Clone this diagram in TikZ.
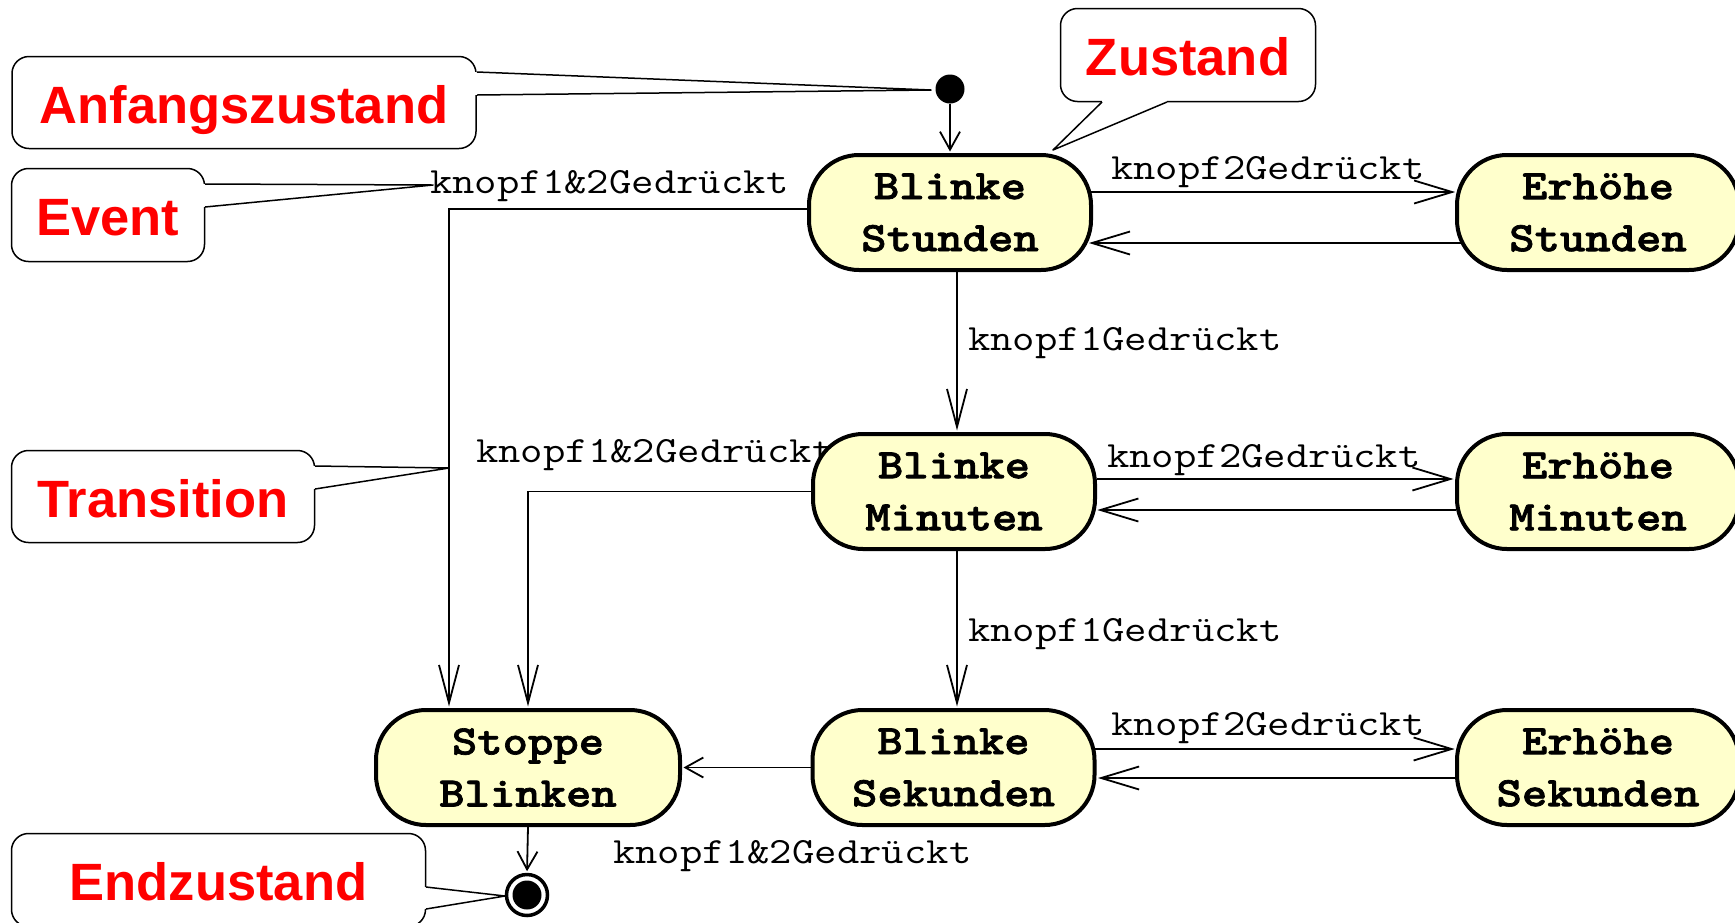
\documentclass[tikz,border=0pt]{standalone}
\usepackage{fontspec}
\setmainfont{Liberation Sans}
\newfontfamily\lblmono[FakeStretch=1.175]{Latin Modern Mono}
\newfontfamily\statemono[FakeStretch=1.15,FakeBold=1.6]{lmmonolt10-bold.otf}
\usetikzlibrary{arrows.meta}
\definecolor{statefill}{HTML}{FFFFCC}
\definecolor{callred}{HTML}{FF0000}
\begin{document}
\begin{tikzpicture}[x=1pt,y=-1pt,
 stateb/.style={draw, line width=4pt, fill=statefill, rounded corners=50pt, minimum width=282pt, minimum height=115pt, inner sep=0pt, align=center, font=\statemono\fontsize{42}{52}\selectfont},
 callbox/.style={draw, line width=1.5pt, fill=white, rounded corners=17pt, inner sep=0pt, text=callred, font=\bfseries\fontsize{52.5}{60}\selectfont, text height=41pt, text depth=0pt},
 calline/.style={line width=1.5pt, line join=round},
 lbl/.style={anchor=base west, inner sep=0pt, font=\lblmono\fontsize{37}{44}\selectfont},
 conn/.style={line width=1.8pt, shorten >=1.5pt, -{Straight Barb[length=18pt,width=20pt]}},
 connl/.style={line width=1.8pt, shorten >=1.5pt, -{Straight Barb[length=38pt,width=23pt]}},
 connv/.style={line width=1.8pt, shorten >=1.5pt, -{Straight Barb[length=38pt,width=20pt]}},
]
\useasboundingbox (0,0) rectangle (1735,922);

% callouts
\node[callbox, minimum width=464pt, minimum height=92pt] (anf) at (244,102.5) {Anfangszustand};
\coordinate (anfA) at (477,72); \coordinate (anfB) at (477,95); \coordinate (anfT) at (931,90);
\fill[white] (474.5,72) rectangle (479.5,95);
\draw[calline] (anfA) -- (anfT) -- (anfB);

\node[callbox, minimum width=193pt, minimum height=93pt] (evt) at (108,215) {Event};
\coordinate (evtA) at (205,184); \coordinate (evtB) at (205,207); \coordinate (evtT) at (433,185);
\fill[white] (202.5,184) rectangle (207.5,207);
\draw[calline] (evtA) -- (evtT) -- (evtB);

\node[callbox, minimum width=303pt, minimum height=92pt] (trn) at (163,496.5) {Transition};
\coordinate (trnA) at (315,466); \coordinate (trnB) at (315,489); \coordinate (trnT) at (449,468);
\fill[white] (312.5,466) rectangle (317.5,489);
\draw[calline] (trnA) -- (trnT) -- (trnB);

\node[callbox, minimum width=414pt, minimum height=93pt] (end) at (218.5,880) {Endzustand};
\coordinate (endA) at (426,887); \coordinate (endB) at (426,909); \coordinate (endT) at (505,896);
\fill[white] (423.5,887) rectangle (428.5,909);
\draw[calline] (endA) -- (endT) -- (endB);

\node[callbox, minimum width=255pt, minimum height=93pt] (zus) at (1188,55) {Zustand};
\coordinate (zusA) at (1102,102); \coordinate (zusB) at (1167,102); \coordinate (zusT) at (1053,150);
\fill[white] (1102,99.5) rectangle (1167,104.5);
\draw[calline] (zusA) -- (zusT) -- (zusB);

% labels
\node[lbl] (l1) at (430,193) {knopf1\&2Gedrückt};
\node[lbl] (l2) at (1111,179) {knopf2Gedrückt};
\node[lbl] (l3) at (968,350) {knopf1Gedrückt};
\node[lbl] (l4) at (476,462) {knopf1\&2Gedrückt};
\node[lbl] (l5) at (1107,467) {knopf2Gedrückt};
\node[lbl] (l6) at (968,641) {knopf1Gedrückt};
\node[lbl] (l7) at (1111,735) {knopf2Gedrückt};
\node[lbl] (l8) at (613,863) {knopf1\&2Gedrückt};

% states
\node[stateb] (BS) at (950,212.5) {Blinke\\Stunden};
\node[stateb] (ES) at (1598,212.5) {Erhöhe\\Stunden};
\node[stateb] (BM) at (954,491.5) {Blinke\\Minuten};
\node[stateb] (EM) at (1598,491.5) {Erhöhe\\Minuten};
\node[stateb] (BSek) at (953.5,767.5) {Blinke\\Sekunden};
\node[stateb] (ESek) at (1598,767.5) {Erhöhe\\Sekunden};
\node[stateb, minimum width=304pt] (ST) at (528,767.5) {Stoppe\\Blinken};

% pseudo states
\node[circle, fill=black, inner sep=0pt, minimum size=29pt] (init) at (950,89) {};
\node[circle, draw, line width=3.5pt, fill=white, inner sep=0pt, minimum size=41pt] (fin) at (527,895) {};
\node[circle, fill=black, inner sep=0pt, minimum size=29pt] (finc) at (527,895) {};

% transitions
\draw[conn] (init) -- (BS.north);
\draw[connl] ([xshift=-1.7pt,yshift=20.5pt]BS.east) -- ([xshift=1.7pt,yshift=20.5pt]ES.west);
\draw[connl] ([xshift=5.6pt,yshift=-30.5pt]ES.west) -- ([xshift=-5.6pt,yshift=-30.5pt]BS.east);
\draw[connl] ([yshift=12.5pt]BM.east) -- ([yshift=12.5pt]EM.west);
\draw[connl] ([xshift=1.2pt,yshift=-18.5pt]EM.west) -- ([xshift=-1.2pt,yshift=-18.5pt]BM.east);
\draw[connl] ([xshift=-1.2pt,yshift=18.5pt]BSek.east) -- ([xshift=1.2pt,yshift=18.5pt]ESek.west);
\draw[connl] ([yshift=-10.5pt]ESek.west) -- ([yshift=-10.5pt]BSek.east);
\draw[connv] ([xshift=7pt]BS.south) -- ([xshift=3pt]BM.north);
\draw[connv] ([xshift=3pt]BM.south) -- ([xshift=3.5pt]BSek.north);
\draw[connv] ([yshift=3.5pt]BS.west) -| ([xshift=-79pt]ST.north);
\draw[connv] (BM.west) -| (ST.north);
\draw[conn] (BSek.west) -- (ST.east);
\draw[conn] (ST.south) -- (fin.north);
\end{tikzpicture}
\end{document}
